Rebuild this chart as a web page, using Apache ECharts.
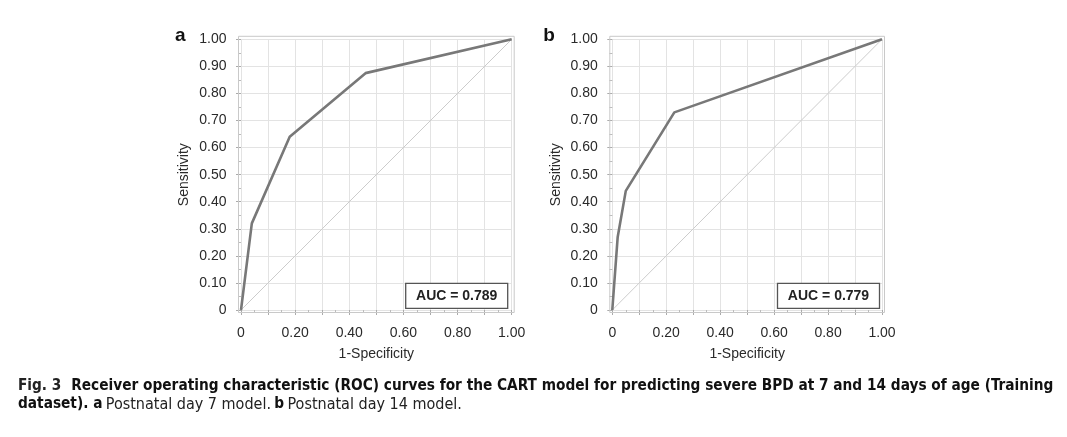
<!DOCTYPE html>
<html>
<head>
<meta charset="utf-8">
<script src="https://cdn.jsdelivr.net/npm/echarts@6/dist/echarts.min.js"></script>
<style>
html,body{margin:0;padding:0;background:#fff;}
#chart{width:1067px;height:437px;}
</style>
</head>
<body>
<div id="chart"></div>
<script>
// ---- data ----
const rocA_fpr = [0, 0.04, 0.18, 0.46, 1.0];
const rocA_tpr = [0, 0.32, 0.64, 0.875, 1.0];
const rocB_fpr = [0, 0.02, 0.05, 0.23, 1.0];
const rocB_tpr = [0, 0.27, 0.44, 0.73, 1.0];
const diag_x = [0, 1];
const diag_y = [0, 1];
const panelLetters = ['a', 'b'];
const aucLabels = ['AUC = 0.789', 'AUC = 0.779'];
const xAxisTitle = '1-Specificity';
const yAxisTitle = 'Sensitivity';
const captionLine1 = ['Fig. 3', 'Receiver operating characteristic (ROC) curves for the CART model for predicting severe BPD at 7 and 14 days of age (Training'];
const captionLine2 = ['dataset).', 'a', 'Postnatal day 7 model.', 'b', 'Postnatal day 14 model.'];

function pairs(xs, ys) { return xs.map((x, i) => [x, ys[i]]); }
function tickFmt(v) { return v === 0 ? '0' : v.toFixed(2); }

// ---- layout ----
const grids = [
  {left: 241, top: 39.3, width: 270.7, height: 270.7, letterDx: -66, boxDx: 0},
  {left: 612.3, top: 39.3, width: 269.7, height: 270.7, letterDx: -69, boxDx: 1.5}
];
const pad = 2.5;
const txt = '#2a2a2a';
const axFont = "'Liberation Sans', Arial, sans-serif";

const chart = echarts.init(document.getElementById('chart'), null, {renderer: 'canvas'});

function xAx(i) {
  return {
    type: 'value', gridIndex: i, min: 0, max: 1, interval: 0.1, offset: pad,
    name: xAxisTitle, nameLocation: 'middle', nameGap: 35,
    nameTextStyle: {color: txt, fontSize: 14, fontFamily: axFont},
    axisLine: {show: false},
    axisTick: {show: true, length: 5, lineStyle: {color: '#aaa'}},
    minorTick: {show: true, splitNumber: 2, length: 3, lineStyle: {color: '#bbb'}},
    axisLabel: {color: txt, fontSize: 14, margin: 14, fontFamily: axFont,
      formatter: v => (Math.round(v * 10) % 2 === 0) ? tickFmt(v) : ''},
    splitLine: {show: true, lineStyle: {color: '#e3e3e3', width: 1}}
  };
}
function yAx(i) {
  return {
    type: 'value', gridIndex: i, min: 0, max: 1, interval: 0.1, offset: pad,
    name: yAxisTitle, nameLocation: 'middle', nameGap: 47,
    nameTextStyle: {color: txt, fontSize: 14, fontFamily: axFont},
    axisLine: {show: false},
    axisTick: {show: true, length: 5, lineStyle: {color: '#aaa'}},
    minorTick: {show: true, splitNumber: 2, length: 3, lineStyle: {color: '#bbb'}},
    axisLabel: {color: txt, fontSize: 14, margin: 12, fontFamily: axFont, formatter: tickFmt},
    splitLine: {show: true, lineStyle: {color: '#e3e3e3', width: 1}}
  };
}

const rocSets = [pairs(rocA_fpr, rocA_tpr), pairs(rocB_fpr, rocB_tpr)];
const series = [];
rocSets.forEach((d, i) => {
  series.push({type: 'line', xAxisIndex: i, yAxisIndex: i, data: pairs(diag_x, diag_y), symbol: 'none',
    lineStyle: {color: '#cccccc', width: 1}, silent: true, z: 2});
  series.push({type: 'line', xAxisIndex: i, yAxisIndex: i, data: d, symbol: 'none',
    lineStyle: {color: '#787878', width: 2.6}, silent: true, z: 3});
});

const graphic = [];
grids.forEach((g, i) => {
  graphic.push({type: 'rect', z: 1, silent: true,
    shape: {x: g.left - pad, y: g.top - pad - 0.5, width: g.width + 2 * pad, height: g.height + 2 * pad + 0.5},
    style: {fill: null, stroke: '#c9c9c9', lineWidth: 1}});
  graphic.push({type: 'text', z: 10, left: g.left + g.letterDx, top: g.top - 13,
    style: {text: panelLetters[i], font: "bold 19px 'Liberation Sans', Arial, sans-serif", fill: '#111'}});
  // AUC box
  const bx = g.left + g.width - 106 + g.boxDx;
  graphic.push({type: 'rect', z: 20, silent: true, shape: {x: bx, y: 283.3, width: 102, height: 25},
    style: {fill: '#fff', stroke: '#555', lineWidth: 1.3}});
  graphic.push({type: 'text', z: 21, silent: true, x: bx + 51, y: 296,
    style: {text: aucLabels[i], align: 'center', verticalAlign: 'middle',
      font: "bold 14px 'Liberation Sans', Arial, sans-serif", fill: '#222'}});
});

const capFont = "'DejaVu Sans Condensed', 'Liberation Sans Narrow', 'Arial Narrow', sans-serif";
graphic.push({type: 'text', z: 10, left: 18, top: 379,
  style: {
    text: '{n|' + captionLine1[0] + '}   {b|' + captionLine1[1] + '}\n' +
          '{b|' + captionLine2[0] + ' ' + captionLine2[1] + '} {r|' + captionLine2[2] + '} {b|' + captionLine2[3] + '} {r|' + captionLine2[4] + '}',
    rich: {
      n: {fontFamily: capFont, fontSize: 15.2, fontWeight: 'bold', fill: '#222', lineHeight: 18},
      b: {fontFamily: capFont, fontSize: 15.25, fontWeight: 'bold', fill: '#111', lineHeight: 18},
      r: {fontFamily: capFont, fontSize: 16, fontWeight: 'normal', fill: '#222', lineHeight: 18}
    }
  }});

chart.setOption({
  animation: false,
  backgroundColor: '#fff',
  grid: grids.map(g => ({left: g.left, top: g.top, width: g.width, height: g.height, containLabel: false})),
  xAxis: [xAx(0), xAx(1)],
  yAxis: [yAx(0), yAx(1)],
  series: series,
  graphic: graphic
});
</script>
</body>
</html>
